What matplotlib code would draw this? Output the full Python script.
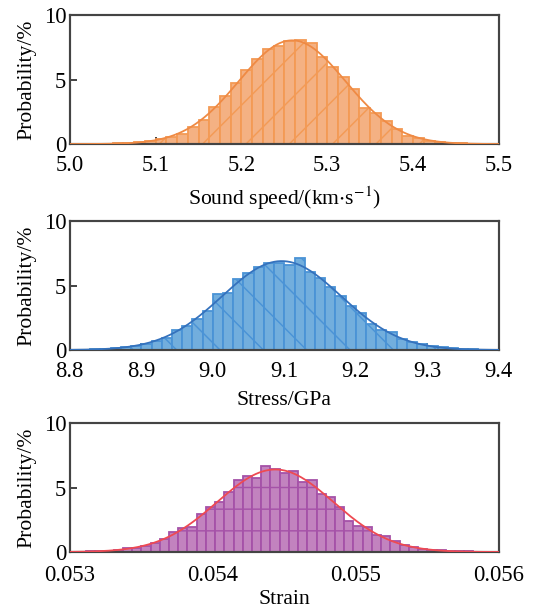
"""
Probability histograms of sound speed, stress and strain, each with a
fitted normal curve drawn on top.
"""

import matplotlib
matplotlib.use("Agg")
import matplotlib.pyplot as plt
import numpy as np

# --- data (percent of samples per bin) --------------------------------------
speed_start = 5.0
speed_width = 0.0125
speed_pct = [0.02, 0.02, 0.03, 0.04, 0.05, 0.08, 0.18, 0.23, 0.36, 0.57,
             0.78, 1.34, 1.90, 2.87, 3.72, 4.75, 5.74, 6.56, 7.34, 7.60,
             7.98, 8.05, 7.82, 6.72, 6.00, 5.17, 4.29, 2.79, 2.40, 1.80,
             1.15, 0.65, 0.44, 0.26, 0.18, 0.12, 0.08, 0.04, 0.03, 0.02]
speed_ticks = [5.0, 5.1, 5.2, 5.3, 5.4, 5.5]

stress_start = 8.8
stress_width = 1 / 70
stress_pct = [0.03, 0.04, 0.06, 0.10, 0.15, 0.22, 0.35, 0.50, 0.67, 0.95,
              1.55, 1.90, 2.40, 3.05, 4.35, 4.40, 5.50, 6.00, 6.45, 6.75,
              6.75, 6.60, 7.10, 6.02, 5.60, 4.88, 4.20, 3.45, 2.84, 1.99,
              1.55, 1.37, 0.87, 0.63, 0.44, 0.30, 0.22, 0.12, 0.08, 0.05,
              0.03, 0.02]
stress_ticks = [8.8, 8.9, 9.0, 9.1, 9.2, 9.3, 9.4]

strain_start = 0.052984
strain_width = 6.45e-5
strain_pct = [0.02, 0.03, 0.04, 0.06, 0.10, 0.16,
              0.33, 0.30, 0.45, 0.70, 1.03, 1.52, 1.86, 1.94, 2.97, 3.49,
              3.88, 4.65, 5.60, 5.90, 5.74, 6.64, 6.43, 6.15, 6.25, 5.43,
              5.60, 4.50, 4.24, 3.51, 2.43, 1.99, 1.91, 1.29, 1.21, 0.83,
              0.54, 0.36, 0.26, 0.18, 0.13, 0.08, 0.06, 0.04, 0.03, 0.02]
strain_ticks = [0.053, 0.054, 0.055, 0.056]

plt.rcParams["font.family"] = ["Liberation Serif", "DejaVu Serif"]
plt.rcParams["mathtext.fontset"] = "stix"
plt.rcParams["hatch.linewidth"] = 0.8


def hist_panel(ax, start, width, pct, ticks, face, edge, line, hatch, xlabel,
               tick_fmt, xpad=6, lpad=5):
    pct = np.asarray(pct)
    lefts = start + width * np.arange(len(pct))
    ax.bar(lefts, pct, width=width, align="edge", color=face,
           edgecolor=edge, linewidth=1.0, hatch=hatch, zorder=2)

    # normal fit from the binned data
    centers = lefts + width / 2
    total = pct.sum()
    mu = (centers * pct).sum() / total
    sd = np.sqrt(((centers - mu) ** 2 * pct).sum() / total)
    xs = np.linspace(ticks[0], ticks[-1], 400)
    ys = total * width * np.exp(-0.5 * ((xs - mu) / sd) ** 2) / (sd * np.sqrt(2 * np.pi))
    ax.plot(xs, ys, color=line, linewidth=1.0, zorder=3)

    ax.set_xlim(ticks[0], ticks[-1])
    ax.set_ylim(0, 10)
    ax.set_xticks(ticks)
    ax.set_xticklabels([tick_fmt.format(t) for t in ticks])
    ax.set_yticks([0, 5, 10])
    ax.tick_params(direction="in", length=4, width=1.0, color="#333333",
                   labelsize=12.5, top=False, right=False)
    ax.tick_params(axis="x", pad=xpad)
    ax.tick_params(axis="y", pad=2)
    for s in ax.spines.values():
        s.set_color("#444444")
        s.set_linewidth(1.2)
    ax.set_ylabel("Probability/%", fontsize=12, labelpad=4)
    ax.set_xlabel(xlabel, fontsize=12, labelpad=lpad)


fig = plt.figure(figsize=(537 / 130, 613 / 130), dpi=130)
ax1 = fig.add_axes([0.130, 0.765, 0.799, 0.2104])
ax2 = fig.add_axes([0.130, 0.429, 0.799, 0.2104])
ax3 = fig.add_axes([0.130, 0.0995, 0.799, 0.2104])

hist_panel(ax1, speed_start, speed_width, speed_pct, speed_ticks,
           "#F4B183", "#F39A55", "#EF8A44", "/",
           r"Sound speed/(km$\cdot$s$^{-1}$)", "{:.1f}")
hist_panel(ax2, stress_start, stress_width, stress_pct, stress_ticks,
           "#72AEDD", "#4A93D6", "#3572BD", "\\",
           "Stress/GPa", "{:.1f}")
hist_panel(ax3, strain_start, strain_width, strain_pct, strain_ticks,
           "#C283BF", "#A552A8", "#EE4A52", "-",
           "Strain", "{:.3f}", xpad=7, lpad=2.5)

fig.savefig("out.png", dpi=130)
